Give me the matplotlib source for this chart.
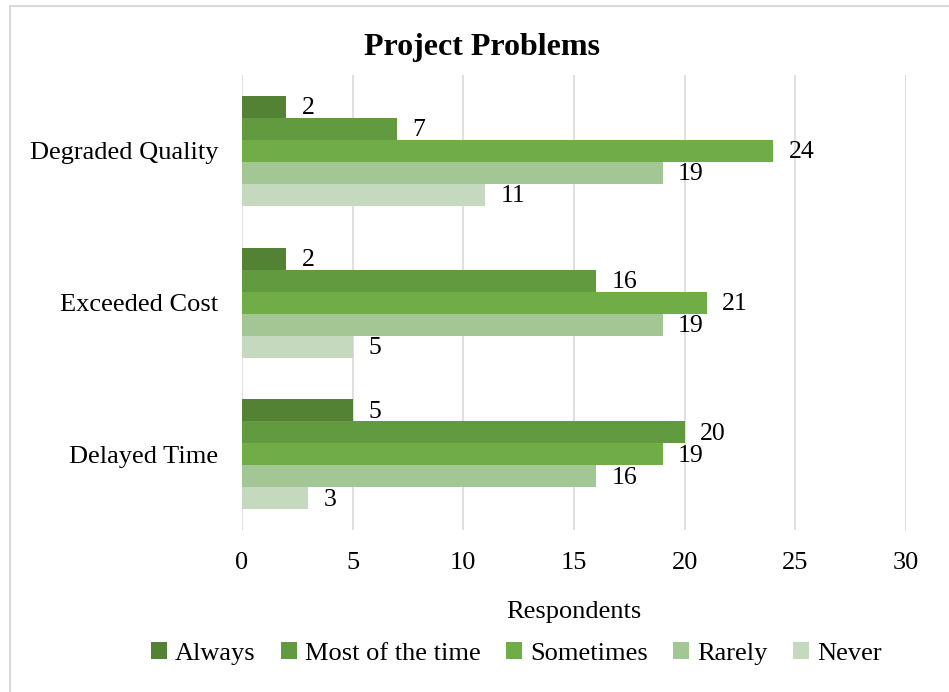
import numpy as np
import matplotlib
matplotlib.use("Agg")
import matplotlib.pyplot as plt
from matplotlib.patches import Rectangle

plt.rcParams['font.family'] = ['Liberation Serif', 'DejaVu Serif']

categories = ["Delayed Time", "Exceeded Cost", "Degraded Quality"]
series = ["Always", "Most of the time", "Sometimes", "Rarely", "Never"]
always = [5, 2, 2]
most = [20, 16, 7]
sometimes = [19, 21, 24]
rarely = [16, 19, 19]
never = [3, 5, 11]
colors = ["#548235", "#629A3F", "#70AD47", "#A2C794", "#C5D9BE"]

values = [always, most, sometimes, rarely, never]

fig = plt.figure(figsize=(9.49, 6.92), dpi=100)
ax = fig.add_axes([0.255, 0.234, 0.6997, 0.6576])

# outer border of the chart area
fig.patches.append(Rectangle((10 / 949, -0.05), 1.1, 1 - 6 / 692 + 0.05,
                             transform=fig.transFigure, fill=False,
                             edgecolor="#D9D9D9", linewidth=1.5))

y = np.arange(len(categories))
h = 0.145
for i, (name, vals) in enumerate(zip(series, values)):
    offs = (2 - i) * h
    bars = ax.barh(y + offs, vals, height=h, color=colors[i], label=name, zorder=3)
    for b, v in zip(bars, vals):
        ax.text(b.get_width() + 0.7, b.get_y() + b.get_height() / 2 - 0.01, str(v),
                va="center", ha="left", fontsize=18.5, color="#000000")

ax.set_xlim(0, 30)
ax.set_ylim(-0.5, 2.5)
ax.set_xticks(range(0, 31, 5))
ax.set_yticks(y)
ax.set_yticklabels(categories, fontsize=19)
ax.tick_params(axis="x", labelsize=19, length=0, pad=16)
ax.tick_params(axis="y", length=0, pad=17)
ax.grid(axis="x", color="#D9D9D9", linewidth=1.2, zorder=0)
for s in ax.spines.values():
    s.set_visible(False)

ax.set_xlabel("Respondents", fontsize=19, labelpad=19)
fig.text(0.508, 0.932, "Project Problems", ha="center", va="center",
         fontsize=23, fontweight="bold")

fig.legend(loc="center", bbox_to_anchor=(0.544, 0.056), ncol=5, frameon=False,
           fontsize=19, handlelength=0.62, handleheight=0.62, handletextpad=0.3,
           columnspacing=0.95)

fig.savefig("out.png", dpi=100)
